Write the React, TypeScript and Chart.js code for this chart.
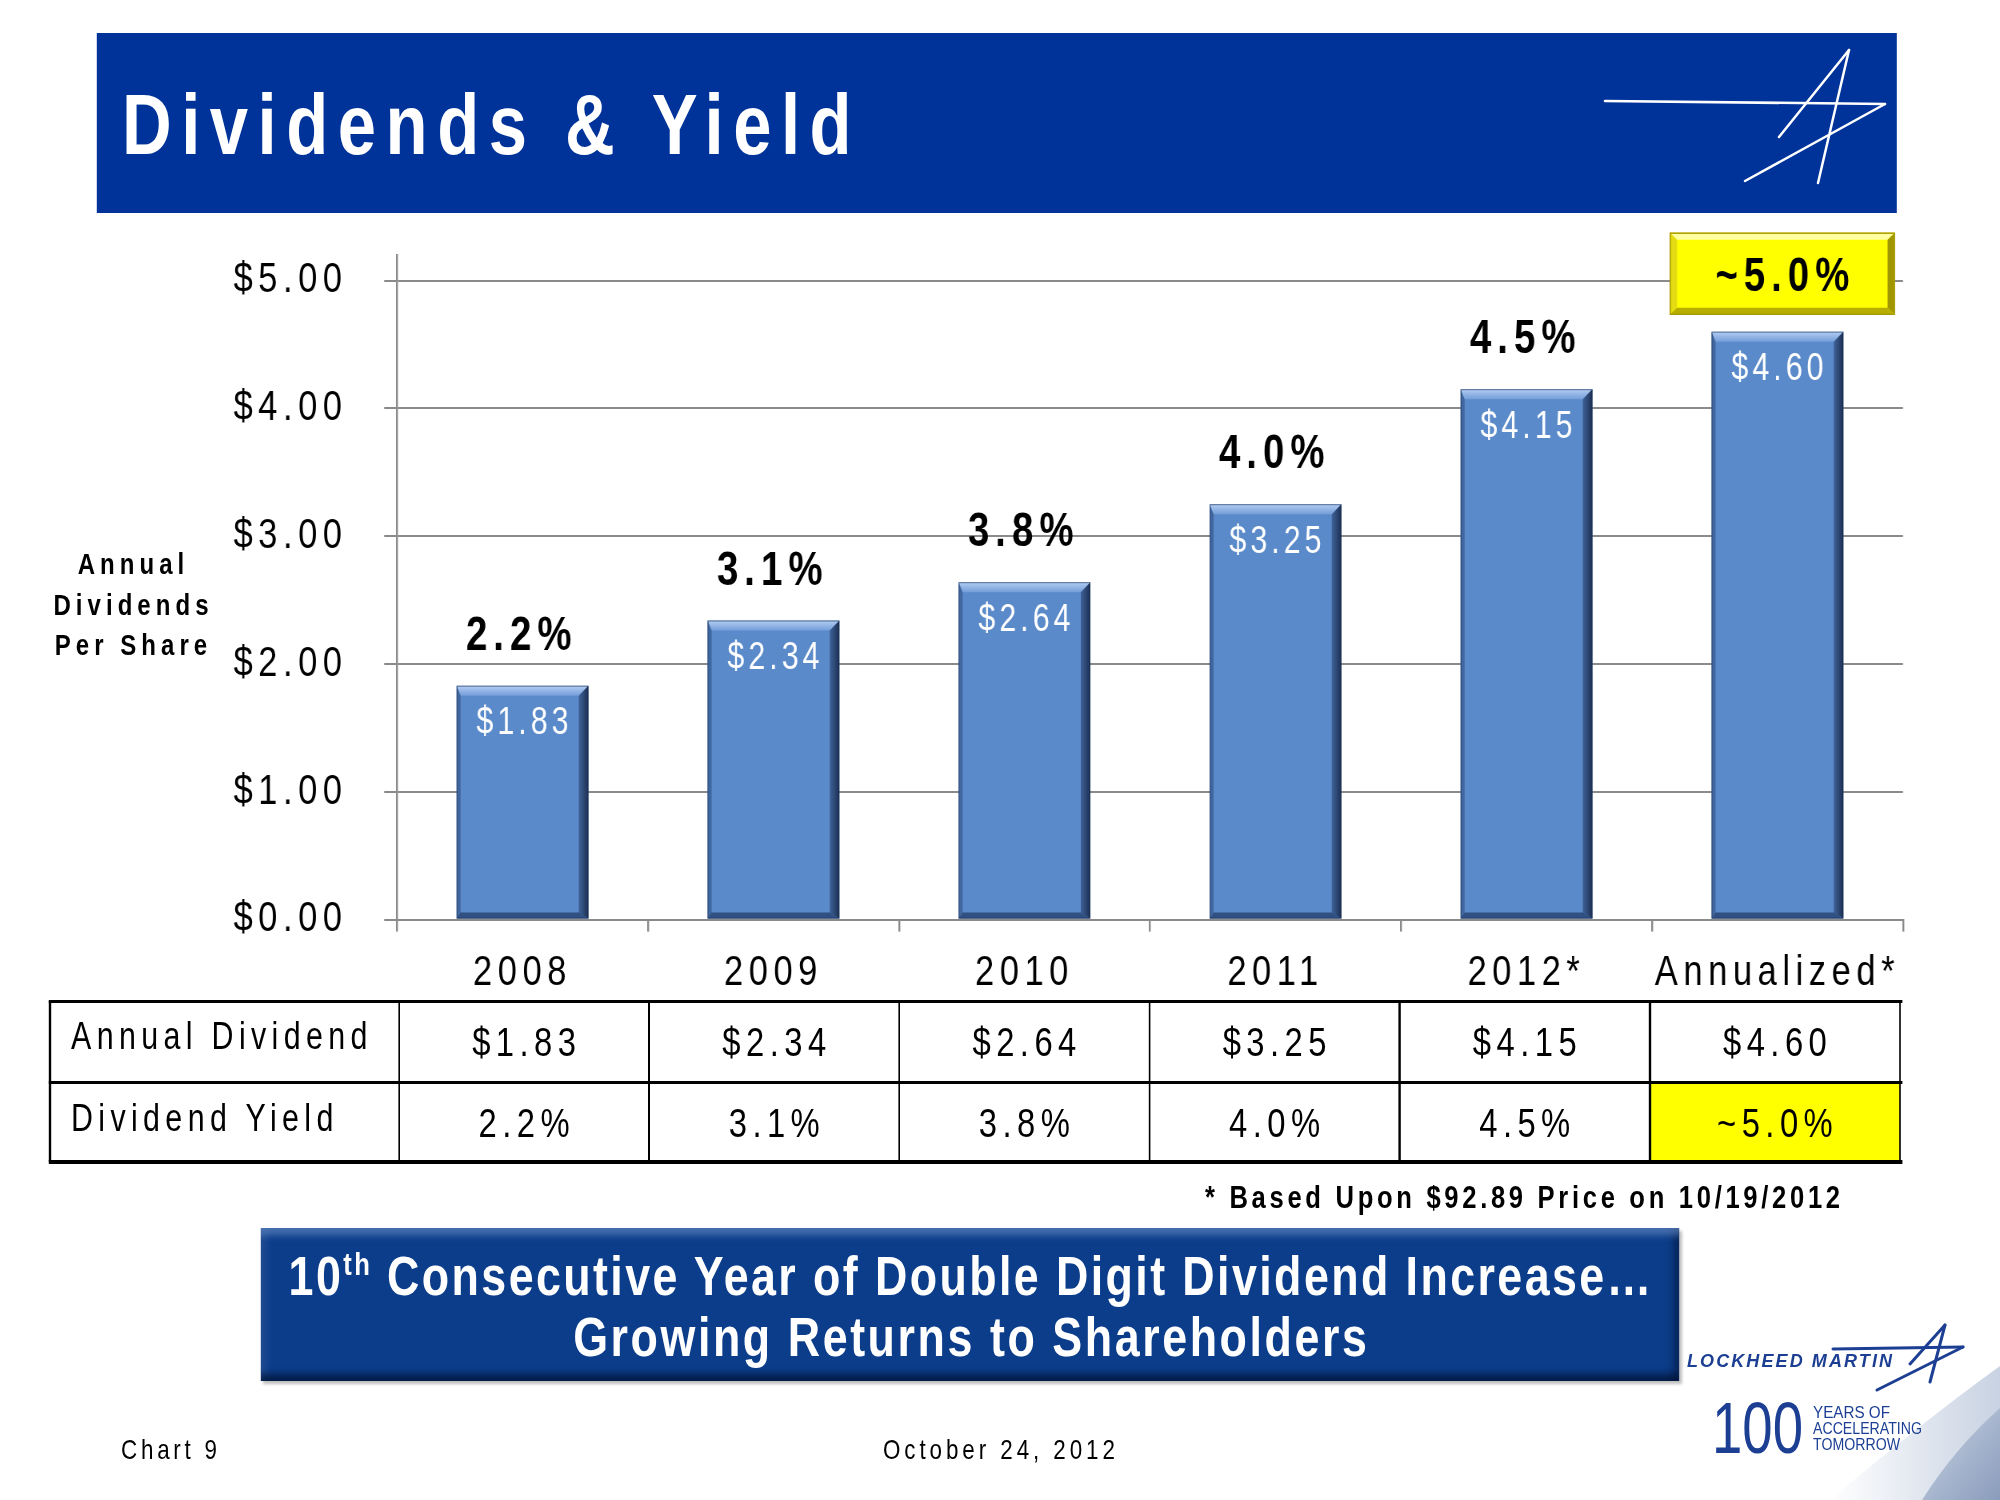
import React, { useEffect, useRef } from "react";
import { Chart, registerables } from "chart.js";

Chart.register(...registerables);

// ---------------- data ----------------
const categories = ["2008", "2009", "2010", "2011", "2012*", "Annualized*"];
const dividends = [1.83, 2.34, 2.64, 3.25, 4.15, 4.6];
const yields = [2.2, 3.1, 3.8, 4.0, 4.5, 5.0];
const yieldApprox = [false, false, false, false, false, true];
const yTickValues = [0, 1, 2, 3, 4, 5];
const rowLabels = ["Annual Dividend", "Dividend Yield"];
const yTitleLines = ["Annual", "Dividends", "Per Share"];
const footnote = "* Based Upon $92.89 Price on 10/19/2012";
const bannerLine1 = ["10", "th", " Consecutive Year of Double Digit Dividend Increase\u2026"];
const bannerLine2 = "Growing Returns to Shareholders";

const fmtDiv = (v: number) => "$" + v.toFixed(2);
const fmtYield = (v: number, a: boolean) => (a ? "~" : "") + v.toFixed(1) + "%";

// ---------------- style constants ----------------
// The slide is drawn on a 2500-wide stage that is squeezed to 2000 px (scaleX 0.8),
// which gives the condensed lettering of the original.
const SX = 1.25; // page x -> stage x
const FONT = '"Liberation Sans", Arial, sans-serif';
const GRID = "#8a8a8a";
const BAR = "#5A8AC9";
const LOGO_BLUE = "#1c3f94";
const CANVAS_TOP = 230;
const CANVAS_H = 800;
const STAGE_W = 2500;
const AREA = { left: 397 * SX, right: 1903 * SX, top: 255, bottom: 919.6 };
const X_AXIS_H = 80;

function poly(ctx: CanvasRenderingContext2D, pts: number[][], fill: any) {
  ctx.beginPath();
  ctx.moveTo(pts[0][0], pts[0][1]);
  for (let i = 1; i < pts.length; i++) ctx.lineTo(pts[i][0], pts[i][1]);
  ctx.closePath();
  ctx.fillStyle = fill;
  ctx.fill();
}

const spacingPlugin = {
  id: "spacing",
  beforeDraw(chart: any) {
    (chart.ctx as any).letterSpacing = "7px";
  },
};

const barDecor = {
  id: "barDecor",
  afterDatasetsDraw(chart: any) {
    const ctx: CanvasRenderingContext2D = chart.ctx;
    const meta = chart.getDatasetMeta(0);
    meta.data.forEach((el: any, i: number) => {
      const { x, y, base, width } = el.getProps(["x", "y", "base", "width"], true);
      const l = x - width / 2, r = x + width / 2, t = y, b = base;
      const bv = 10, rv = 12, lv = 5;
      ctx.save();
      const g = ctx.createLinearGradient(0, t, 0, t + bv);
      g.addColorStop(0, "rgba(185,210,245,0.95)");
      g.addColorStop(1, "rgba(120,160,220,0.9)");
      poly(ctx, [[l, t], [r, t], [r - rv, t + bv], [l + lv, t + bv]], g);
      poly(ctx, [[l, t], [l + lv, t + bv], [l + lv, b - 6], [l, b]], "rgba(45,75,125,0.55)");
      const gr = ctx.createLinearGradient(r - rv, 0, r, 0);
      gr.addColorStop(0, "rgba(50,80,130,0.7)");
      gr.addColorStop(1, "rgba(20,35,65,0.9)");
      poly(ctx, [[r, t], [r, b], [r - rv, b - 6], [r - rv, t + bv]], gr);
      poly(ctx, [[l, b], [r, b], [r - rv, b - 6], [l + lv, b - 6]], "rgba(35,60,105,0.75)");
      ctx.strokeStyle = "rgba(30,50,90,0.6)";
      ctx.lineWidth = 1;
      ctx.strokeRect(l + 0.5, t + 0.5, width - 1, b - t - 1);

      // value inside bar
      (ctx as any).letterSpacing = "5px";
      ctx.font = `38px ${FONT}`;
      ctx.fillStyle = "#ffffff";
      ctx.textAlign = "center";
      ctx.textBaseline = "alphabetic";
      ctx.fillText(fmtDiv(dividends[i]), x + 2.5, t + 35 + 0.358 * 38);

      // yield above bar
      const label = fmtYield(yields[i], yieldApprox[i]);
      ctx.font = `bold 48px ${FONT}`;
      (ctx as any).letterSpacing = "7.5px";
      if (yieldApprox[i]) {
        const bw = 225 * SX, bh = 82;
        const bx = x + 6 - bw / 2, byB = t - 17, by = byB - bh;
        ctx.fillStyle = "#FFFF00";
        ctx.fillRect(bx, by, bw, bh);
        const e = 7, eh = 9;
        poly(ctx, [[bx, by], [bx + bw, by], [bx + bw - eh, by + e], [bx + eh, by + e]], "rgba(255,255,170,0.95)");
        poly(ctx, [[bx, by], [bx + eh, by + e], [bx + eh, byB - e], [bx, byB]], "rgba(225,215,20,0.9)");
        poly(ctx, [[bx + bw, by], [bx + bw, byB], [bx + bw - eh, byB - e], [bx + bw - eh, by + e]], "rgba(150,140,0,0.9)");
        poly(ctx, [[bx, byB], [bx + bw, byB], [bx + bw - eh, byB - e], [bx + eh, byB - e]], "rgba(175,165,0,0.9)");
        ctx.strokeStyle = "#a89a00";
        ctx.lineWidth = 1.5;
        ctx.strokeRect(bx + 0.5, by + 0.5, bw - 1, bh - 1);
        ctx.fillStyle = "#000";
        ctx.fillText(label, bx + bw / 2 + 3.75, by + bh / 2 + 0.358 * 48);
      } else {
        ctx.fillStyle = "#000";
        ctx.fillText(label, x - 1, t - 53 + 0.358 * 48);
      }
      ctx.restore();
    });
  },
};

type TP = {
  x: number; cy: number; size: number; bold?: boolean; spacing?: number;
  align?: "left" | "center"; width?: number; color?: string; children: any;
};
// x and width are page coordinates; they are converted to stage coordinates here.
function T({ x, cy, size, bold, spacing = 0, align = "left", width, color = "#000", children }: TP) {
  const style: any = {
    position: "absolute",
    top: cy - size / 2,
    fontSize: size,
    lineHeight: `${size}px`,
    fontWeight: bold ? "bold" : "normal",
    letterSpacing: spacing,
    whiteSpace: "nowrap",
    color,
    fontFamily: FONT,
  };
  if (align === "center") {
    const w = (width || 0) * SX;
    style.left = x * SX - w / 2;
    style.width = w;
    style.textAlign = "center";
    style.paddingLeft = spacing;
    style.boxSizing = "border-box";
  } else {
    style.left = x * SX;
  }
  return <div style={style}>{children}</div>;
}

export default function App() {
  const ref = useRef<HTMLCanvasElement>(null);

  useEffect(() => {
    const chart = new Chart(ref.current as HTMLCanvasElement, {
      type: "bar",
      data: {
        labels: categories,
        datasets: [
          {
            data: dividends,
            backgroundColor: BAR,
            borderWidth: 0,
            barPercentage: 0.525,
            categoryPercentage: 1,
          },
        ],
      },
      options: {
        animation: false,
        responsive: false,
        events: [],
        layout: {
          padding: {
            left: 0,
            right: STAGE_W - AREA.right,
            top: AREA.top - CANVAS_TOP,
            bottom: CANVAS_H - (AREA.bottom - CANVAS_TOP) - X_AXIS_H,
          },
        },
        plugins: { legend: { display: false }, tooltip: { enabled: false } },
        scales: {
          x: {
            type: "category",
            offset: true,
            grid: {
              display: true,
              drawOnChartArea: false,
              drawTicks: true,
              tickLength: 12,
              color: GRID,
              lineWidth: 2.4,
              offset: true,
            },
            border: { display: true, color: GRID, width: 2 },
            ticks: {
              color: "#000",
              font: { family: FONT, size: 43 },
              padding: 16,
              maxRotation: 0,
              autoSkip: false,
            },
            afterFit: (s: any) => {
              s.height = X_AXIS_H;
              s.paddingLeft = 0;
              s.paddingRight = 0;
              s.paddingTop = 0;
              s.paddingBottom = 0;
            },
          },
          y: {
            min: 0,
            max: 5.2,
            grid: { color: GRID, lineWidth: 2, tickLength: 16, drawTicks: true },
            border: { display: true, color: GRID, width: 2.4 },
            afterBuildTicks: (s: any) => {
              s.ticks = yTickValues.map((v) => ({ value: v }));
            },
            ticks: {
              stepSize: 1,
              includeBounds: false,
              color: "#000",
              font: { family: FONT, size: 43 },
              padding: 45.75,
              callback: (v: any) => fmtDiv(Number(v)),
            },
            afterFit: (s: any) => {
              s.width = AREA.left;
              s.paddingTop = 0;
              s.paddingBottom = 0;
              s.paddingLeft = 0;
              s.paddingRight = 0;
            },
          },
        },
      } as any,
      plugins: [spacingPlugin, barDecor],
    });
    return () => chart.destroy();
  }, []);

  // table geometry, page coordinates
  const colLeft = 399;
  const colW = (1900 - 399) / 6;
  const hLines = [
    { y: 1001, h: 3 },
    { y: 1082, h: 3 },
    { y: 1162, h: 4 },
  ];
  const vLines = [50, ...Array.from({ length: 7 }, (_, k) => colLeft + k * colW)];

  return (
    <div style={{ position: "absolute", left: 0, top: 0, width: 2000, height: 1500, background: "#fff", overflow: "hidden" }}>
      <div
        style={{
          position: "absolute",
          left: 0,
          top: 0,
          width: STAGE_W,
          height: 1500,
          transform: "scaleX(0.8)",
          transformOrigin: "0 0",
          fontFamily: FONT,
        }}
      >
        {/* title banner */}
        <div style={{ position: "absolute", left: 97 * SX, top: 33, width: 1800 * SX, height: 180, background: "#003399" }} />
        <T x={122} cy={124} size={86} bold spacing={11.9} color="#fff">
          Dividends &amp; Yield
        </T>

        {/* y-axis title */}
        {yTitleLines.map((s, i) => (
          <T key={s} x={131} cy={564 + i * 40.5} size={30} bold spacing={6.3} align="center" width={220}>
            {s}
          </T>
        ))}

        <canvas
          ref={ref}
          width={STAGE_W}
          height={CANVAS_H}
          style={{ position: "absolute", left: 0, top: CANVAS_TOP, width: STAGE_W, height: CANVAS_H }}
        />

        {/* table */}
        <div
          style={{
            position: "absolute",
            left: (colLeft + 5 * colW) * SX,
            top: 1082,
            width: colW * SX,
            height: 80,
            background: "#FFFF00",
          }}
        />
        {hLines.map((l, i) => (
          <div
            key={"h" + i}
            style={{ position: "absolute", left: 49 * SX, top: l.y - l.h / 2, width: 1853 * SX, height: l.h, background: "#000" }}
          />
        ))}
        {vLines.map((x, i) => (
          <div key={"v" + i} style={{ position: "absolute", left: x * SX - 1.25, top: 1001, width: 2.5, height: 161, background: "#000" }} />
        ))}
        <T x={71} cy={1036} size={38} spacing={6.7}>
          {rowLabels[0]}
        </T>
        <T x={71} cy={1118} size={38} spacing={6.7}>
          {rowLabels[1]}
        </T>
        {dividends.map((v, i) => (
          <T key={"d" + i} x={colLeft + (i + 0.5) * colW} cy={1042} size={41} spacing={6.8} align="center" width={colW}>
            {fmtDiv(v)}
          </T>
        ))}
        {yields.map((v, i) => (
          <T key={"y" + i} x={colLeft + (i + 0.5) * colW} cy={1123} size={41} spacing={6.8} align="center" width={colW}>
            {fmtYield(v, yieldApprox[i])}
          </T>
        ))}

        {/* footnote */}
        <T x={1205} cy={1197} size={32} bold spacing={4.6}>
          {footnote}
        </T>

        {/* bottom banner */}
        <div
          style={{
            position: "absolute",
            left: 261 * SX,
            top: 1228,
            width: 1418 * SX,
            height: 153,
            background: "#0C3D8A",
            boxShadow:
              "inset 0 12px 8px -5px rgba(110,145,200,0.6), inset 0 -12px 8px -5px rgba(0,15,45,0.7), inset 12px 0 10px -6px rgba(80,115,175,0.35), inset -12px 0 10px -6px rgba(0,15,45,0.6), 3px 3px 3px rgba(0,0,0,0.25)",
          }}
        />
        <T x={970} cy={1276} size={56} bold spacing={3} align="center" width={1418} color="#fff">
          {bannerLine1[0]}
          <span style={{ fontSize: 32, position: "relative", top: -20 }}>{bannerLine1[1]}</span>
          {bannerLine1[2]}
        </T>
        <T x={970} cy={1337} size={56} bold spacing={3.2} align="center" width={1418} color="#fff">
          {bannerLine2}
        </T>

        {/* footer */}
        <T x={121} cy={1450} size={28} spacing={4.7}>
          Chart 9
        </T>
        <T x={883} cy={1450} size={28} spacing={4.9}>
          October 24, 2012
        </T>
      </div>

      {/* logos and decorations, page coordinates */}
      <svg
        style={{ position: "absolute", left: 0, top: 0, pointerEvents: "none" }}
        width={2000}
        height={1500}
        viewBox="0 0 2000 1500"
      >
        <defs>
          <linearGradient id="sw1" x1="0" y1="0" x2="1" y2="0">
            <stop offset="0" stopColor="#ffffff" />
            <stop offset="1" stopColor="#c8d2e2" />
          </linearGradient>
          <linearGradient id="sw2" x1="0" y1="0" x2="1" y2="1">
            <stop offset="0" stopColor="#c9d3e3" />
            <stop offset="1" stopColor="#8a9cbc" />
          </linearGradient>
        </defs>
        {/* title star */}
        <g stroke="#ffffff" strokeWidth={2.5} fill="none" strokeLinecap="round">
          <line x1={1605} y1={101} x2={1885} y2={104} />
          <line x1={1849} y1={50} x2={1779} y2={137} />
          <line x1={1849} y1={50} x2={1818} y2={183} />
          <line x1={1885} y1={104} x2={1745} y2={181} />
        </g>
        {/* swoosh */}
        <path d="M2000,1366 Q1925,1420 1830,1500 L2000,1500 Z" fill="url(#sw1)" />
        <path d="M2000,1408 Q1955,1448 1922,1500 L2000,1500 Z" fill="url(#sw2)" />
        {/* Lockheed Martin logo */}
        <text
          x={1687}
          y={1367}
          fontFamily="Liberation Sans, Arial"
          fontWeight="900"
          fontStyle="italic"
          fontSize={18}
          fill={LOGO_BLUE}
          textLength={205}
          lengthAdjust="spacing"
        >
          LOCKHEED MARTIN
        </text>
        <g stroke={LOGO_BLUE} strokeWidth={3} fill="none" strokeLinecap="round">
          <line x1={1833} y1={1349} x2={1963} y2={1347} />
          <line x1={1945} y1={1325} x2={1910} y2={1364} />
          <line x1={1945} y1={1325} x2={1930} y2={1382} />
          <line x1={1963} y1={1347} x2={1877} y2={1390} />
        </g>
        <text x={1712} y={1453} fontFamily="Liberation Sans, Arial" fontSize={72} fill={LOGO_BLUE} textLength={91} lengthAdjust="spacingAndGlyphs">
          100
        </text>
        <g fontFamily="Liberation Sans, Arial" fontSize={17} fill={LOGO_BLUE}>
          <text x={1813} y={1418} textLength={77} lengthAdjust="spacingAndGlyphs">YEARS OF</text>
          <text x={1813} y={1434} textLength={109} lengthAdjust="spacingAndGlyphs">ACCELERATING</text>
          <text x={1813} y={1450} textLength={87} lengthAdjust="spacingAndGlyphs">TOMORROW</text>
        </g>
      </svg>
    </div>
  );
}
